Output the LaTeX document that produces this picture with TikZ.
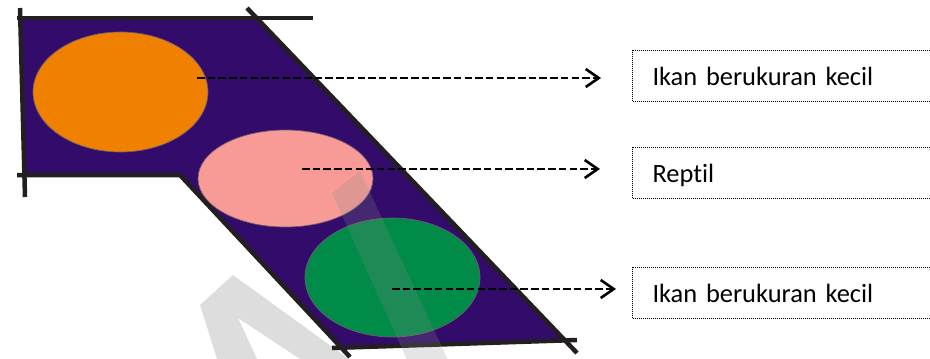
\documentclass[tikz,border=0pt]{standalone}
\usepackage{fontspec}
\setmainfont{Carlito}[Ligatures=NoCommon]
\usetikzlibrary{shapes.geometric,arrows.meta}
\definecolor{bgpurple}{RGB}{51,12,107}
\definecolor{eorange}{RGB}{240,128,0}
\definecolor{epink}{RGB}{248,155,150}
\definecolor{egreen}{RGB}{0,140,72}
\definecolor{outline}{RGB}{35,31,32}
\definecolor{wmark}{RGB}{138,138,138}
\definecolor{wlight}{RGB}{221,221,221}
\definecolor{eborder}{RGB}{110,90,110}
\begin{document}
\begin{tikzpicture}[x=1pt,y=-1pt,
  rim/.style={draw=outline,line width=4.5pt,line join=miter},
  blob/.style={ellipse,inner sep=0pt,draw=eborder,line width=0.7pt},
  pointer/.style={line width=2.8pt,dash pattern=on 7.5pt off 3.2pt,
    -{Straight Barb[length=13pt,width=18pt,line width=2.6pt]}},
  tagbox/.style={draw=black,line width=1pt,dash pattern=on 1pt off 1pt,
    anchor=north west,text width=280pt,align=left,inner xsep=20pt,inner ysep=0pt,
    minimum height=51pt,text height=18pt,text depth=0pt,
    font=\fontsize{26.4}{30}\selectfont}]
\useasboundingbox (0,0) rectangle (930,359);
\clip (0,0) rectangle (930,359);
% watermark (behind)
\fill[wlight,even odd rule] (218,362) -- (200,305) -- (233,275) -- (353,362) -- cycle
  (238,318) -- (258.5,362) -- (304.5,362) -- cycle;
% purple shape
\fill[bgpurple] (22,18) -- (256.6,18) -- (565,340.5) -- (340,346) -- (180,175) -- (24.5,175) -- cycle;
% ellipses
\node[blob,fill=eorange,minimum width=175pt,minimum height=120pt] (orange) at (120.5,92) {};
\node[blob,fill=epink,minimum width=175pt,minimum height=97pt] (pink) at (285.5,178.5) {};
\node[blob,fill=egreen,minimum width=175pt,minimum height=119pt] (green) at (392.5,277.5) {};
% outline
\draw[rim] (17,18) -- (313,18);
\draw[rim] (20,8) -- (25,197);
\draw[rim] (17,175) -- (180,175) -- (350,357);
\draw[rim] (332,348) -- (577,340);
\draw[rim] (247,8) -- (577,353);
% watermark band (front)
\fill[wmark,opacity=0.22] (332,193) -- (360,171) -- (449,362) -- (408,362) -- cycle;
% label boxes
\node[tagbox] (t1) at (632,50) {Ikan berukuran kecil};
\node[tagbox] (t2) at (632,147) {Reptil};
\node[tagbox] (t3) at (632,267) {Ikan berukuran kecil};
% arrows
\coordinate (s1) at (197,78);
\coordinate (e1) at (601,78);
\coordinate (s2) at (302,169);
\coordinate (e2) at (600,169);
\coordinate (s3) at (392,289);
\coordinate (e3) at (616,289);
\draw[pointer] (s1) -- (e1);
\draw[pointer] (s2) -- (e2);
\draw[pointer] (s3) -- (e3);
\end{tikzpicture}
\end{document}
